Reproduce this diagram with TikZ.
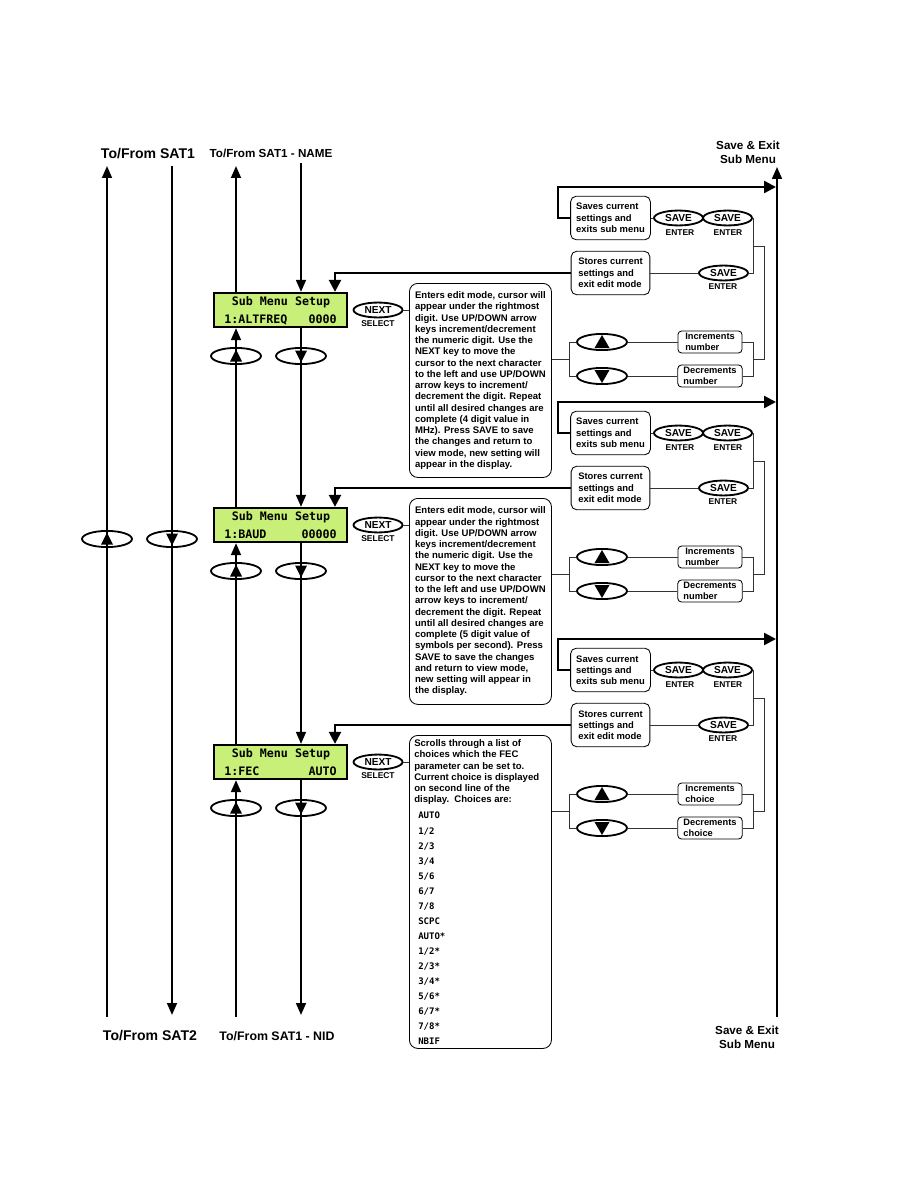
\documentclass[tikz,border=0pt]{standalone}
\usepackage{fontspec}
\setmainfont{Liberation Sans}
\newfontfamily\lcdfont{DejaVu Sans Mono}
\usetikzlibrary{arrows.meta,shapes.geometric}
\definecolor{lcdgreen}{RGB}{200,240,120}

\begin{document}
\begin{tikzpicture}[x=.025cm,y=-.025cm,
  flowline/.style={line width=1.4pt,-{Triangle[width=7pt,length=8.5pt]}},
  plainline/.style={line width=1.4pt},
  routeline/.style={line width=1.7pt,-{Triangle[width=8.5pt,length=8.5pt]}},
  conn/.style={line width=.6pt,black!80},
  lcdbox/.style={draw,line width=1.6pt,fill=lcdgreen,minimum width=94.6pt,minimum height=24.2pt,inner sep=0pt},
  lcdtext/.style={font=\lcdfont\bfseries\fontsize{8.3}{10}\selectfont,inner sep=0pt,text height=6pt,text depth=0pt},
  keyoval/.style={draw,ellipse,line width=1.3pt,minimum width=35.5pt,minimum height=11.5pt,inner sep=0pt},
  btnoval/.style={draw,ellipse,line width=1.3pt,fill=white,minimum width=34.8pt,minimum height=10.6pt,inner sep=0pt,font=\bfseries\fontsize{7.2}{8}\selectfont},
  btnlbl/.style={font=\bfseries\fontsize{6}{7}\selectfont,inner sep=0pt},
  infobox/.style={draw,line width=.6pt,rounded corners=4pt,align=left,font=\bfseries\fontsize{6.7}{8}\selectfont,minimum width=56pt,minimum height=31pt,inner xsep=4pt,inner ysep=1pt},
  minibox/.style={draw,line width=.6pt,rounded corners=2.5pt,align=left,font=\bfseries\fontsize{6.6}{8}\selectfont,minimum width=45.5pt,minimum height=15.6pt,inner xsep=4pt,inner ysep=.5pt},
  descbox/.style={draw,line width=.6pt,rounded corners=6pt,anchor=north west,align=left,font=\bfseries\fontsize{6.8}{8}\selectfont,minimum width=101pt,inner xsep=4pt,inner ysep=4pt},
  hdrbig/.style={font=\bfseries\fontsize{10}{12}\selectfont,inner sep=1pt},
  hdrsmall/.style={font=\bfseries\fontsize{8.3}{10}\selectfont,align=center,inner sep=1pt}]
\useasboundingbox (0,0) rectangle (918,1188);

% column positions
\coordinate (xA) at (107,0);
\coordinate (xB) at (172,0);
\coordinate (xC) at (236,0);
\coordinate (xD) at (301,0);
\coordinate (xR) at (335,0);

% headings
\node[hdrbig] (sat1) at (148,154) {To/From SAT1};
\node[hdrbig] (sat2) at (150,1036) {To/From SAT2};
\node[hdrsmall] (name) at (271,153) {To/From SAT1 - NAME};
\node[hdrsmall,font=\bfseries\fontsize{8.8}{10}\selectfont] (nid) at (277,1036) {To/From SAT1 - NID};
\node[hdrsmall] (exittop) at (748,152) {Save \& Exit\\Sub Menu};
\node[hdrsmall] (exitbot) at (747,1037) {Save \& Exit\\Sub Menu};

% outer lines
\coordinate (aTop) at (107,166);
\coordinate (aBot) at (107,1017);
\coordinate (bTop) at (172,166);
\coordinate (bBot) at (172,1015);
\coordinate (cTop) at (236,166);
\coordinate (cBot) at (236,1017);
\coordinate (dTop) at (301,163);
\coordinate (dBot) at (301,1015);
\coordinate (eTop) at (777,167);
\coordinate (eBot) at (777,1017);
\draw[flowline] (aBot) -- (aTop);
\draw[flowline] (bTop) -- (bBot);
\draw[flowline] (eBot) -- (eTop);
\node[keyoval] (ka) at (107,539) {};
\node[keyoval] (kb) at (172,539) {};
\fill (ka.center) ++(0,-6.5) -- ++(6,12) -- ++(-12,0) -- cycle;
\fill (kb.center) ++(0,6.5) -- ++(6,-12) -- ++(-12,0) -- cycle;

% displays
\node[lcdbox] (lcd1) at (280.5,310) {};
\node[lcdtext] (lcd1a) at (281,301) {Sub Menu Setup};
\node[lcdtext,anchor=west] (lcd1b) at (224,319) {1:ALTFREQ};
\node[lcdtext,anchor=east] (lcd1c) at (337,319) {0000};
\node[lcdbox] (lcd2) at (280.5,525) {};
\node[lcdtext] (lcd2a) at (281,516) {Sub Menu Setup};
\node[lcdtext,anchor=west] (lcd2b) at (224,534) {1:BAUD};
\node[lcdtext,anchor=east] (lcd2c) at (337,534) {00000};
\node[lcdbox] (lcd3) at (280.5,762) {};
\node[lcdtext] (lcd3a) at (281,753) {Sub Menu Setup};
\node[lcdtext,anchor=west] (lcd3b) at (224,771) {1:FEC};
\node[lcdtext,anchor=east] (lcd3c) at (337,771) {AUTO};

% up / down paths between displays
\draw[flowline] (xC |- lcd1.north) -- (cTop);
\draw[flowline] (xC |- lcd2.north) -- (xC |- lcd1.south);
\draw[flowline] (xC |- lcd3.north) -- (xC |- lcd2.south);
\draw[flowline] (cBot) -- (xC |- lcd3.south);
\draw[flowline] (dTop) -- (xD |- lcd1.north);
\draw[flowline] (xD |- lcd1.south) -- (xD |- lcd2.north);
\draw[flowline] (xD |- lcd2.south) -- (xD |- lcd3.north);
\draw[flowline] (xD |- lcd3.south) -- (dBot);
\node[keyoval] (cu1) at (236,356) {};
\node[keyoval] (cd1) at (301,356) {};
\node[keyoval] (cu2) at (236,571) {};
\node[keyoval] (cd2) at (301,571) {};
\node[keyoval] (cu3) at (236,808) {};
\node[keyoval] (cd3) at (301,808) {};
\fill (cu1.center) ++(0,-6.5) -- ++(6,12) -- ++(-12,0) -- cycle;
\fill (cd1.center) ++(0,6.5) -- ++(6,-12) -- ++(-12,0) -- cycle;
\fill (cu2.center) ++(0,-6.5) -- ++(6,12) -- ++(-12,0) -- cycle;
\fill (cd2.center) ++(0,6.5) -- ++(6,-12) -- ++(-12,0) -- cycle;
\fill (cu3.center) ++(0,-6.5) -- ++(6,12) -- ++(-12,0) -- cycle;
\fill (cd3.center) ++(0,6.5) -- ++(6,-12) -- ++(-12,0) -- cycle;

% ALTFREQ
\node[btnoval] (next1) at (378,310) {NEXT};
\node[btnlbl] (sel1) at (378,324) {SELECT};
\node[descbox,minimum height=138pt] (desc1) at (409,283) {Enters edit mode, cursor will\\
appear under the rightmost\\
digit. Use UP/DOWN arrow\\
keys increment/decrement\\
the numeric digit. Use the\\
NEXT key to move the\\
cursor to the next character\\
to the left and use UP/DOWN\\
arrow keys to increment/\\
decrement the digit. Repeat\\
until all desired changes are\\
complete (4 digit value in\\
MHz). Press SAVE to save\\
the changes and return to\\
view mode, new setting will\\
appear in the display.};
\draw[conn] (next1.east) -- (next1.east -| desc1.west);
\node[infobox] (saves1) at (610.5,218) {Saves current\\settings and\\exits sub menu};
\node[infobox] (stores1) at (610.5,273) {Stores current\\settings and\\exit edit mode};
\node[btnoval] (sv1a) at (678.5,218) {SAVE};
\node[btnlbl] (en1a) at (680,233) {ENTER};
\node[btnoval] (sv1b) at (727.5,218) {SAVE};
\node[btnlbl] (en1b) at (728,233) {ENTER};
\node[btnoval] (sv1c) at (723.5,273) {SAVE};
\node[btnlbl] (en1c) at (723,287) {ENTER};
\node[keyoval] (uk1) at (602,342) {};
\node[keyoval] (dk1) at (602,376) {};
\fill (uk1.center) ++(0,-7) -- ++(7.5,13) -- ++(-15,0) -- cycle;
\fill (dk1.center) ++(0,7) -- ++(7.5,-13) -- ++(-15,0) -- cycle;
\node[minibox] (inc1) at (710,342) {Increments\\number};
\node[minibox] (dec1) at (710,376) {Decrements\\number};
\coordinate (brk1) at (570,359);
\coordinate (m1a) at (753,359);
\coordinate (m1b) at (753,246);
\coordinate (ex1) at (776,187);
\draw[conn] (saves1) -- (sv1a);
\draw[conn] (stores1) -- (sv1c);
\draw[conn] (sv1b.east) -- ++(1,0) |- (sv1c.east);
\draw[conn] (uk1.west) -- ++(-7,0) |- (dk1.west);
\draw[conn] (desc1.east |- brk1) -- (brk1);
\draw[conn] (uk1) -- (inc1);
\draw[conn] (dk1) -- (dec1);
\draw[conn] (inc1.east) -- ++(11,0) |- (dec1.east);
\draw[conn] (m1a) -- ++(11,0) |- (m1b);
\draw[routeline] (saves1.west) -- ++(-12,0) |- (ex1);
\draw[routeline] (stores1.west) -| (xR |- lcd1.north);

% BAUD
\node[btnoval] (next2) at (378,525) {NEXT};
\node[btnlbl] (sel2) at (378,539) {SELECT};
\node[descbox,minimum height=146.5pt] (desc2) at (409,498) {Enters edit mode, cursor will\\
appear under the rightmost\\
digit. Use UP/DOWN arrow\\
keys increment/decrement\\
the numeric digit. Use the\\
NEXT key to move the\\
cursor to the next character\\
to the left and use UP/DOWN\\
arrow keys to increment/\\
decrement the digit. Repeat\\
until all desired changes are\\
complete (5 digit value of\\
symbols per second). Press\\
SAVE to save the changes\\
and return to view mode,\\
new setting will appear in\\
the display.};
\draw[conn] (next2.east) -- (next2.east -| desc2.west);
\node[infobox] (saves2) at (610.5,433) {Saves current\\settings and\\exits sub menu};
\node[infobox] (stores2) at (610.5,488) {Stores current\\settings and\\exit edit mode};
\node[btnoval] (sv2a) at (678.5,433) {SAVE};
\node[btnlbl] (en2a) at (680,448) {ENTER};
\node[btnoval] (sv2b) at (727.5,433) {SAVE};
\node[btnlbl] (en2b) at (728,448) {ENTER};
\node[btnoval] (sv2c) at (723.5,488) {SAVE};
\node[btnlbl] (en2c) at (723,502) {ENTER};
\node[keyoval] (uk2) at (602,557) {};
\node[keyoval] (dk2) at (602,591) {};
\fill (uk2.center) ++(0,-7) -- ++(7.5,13) -- ++(-15,0) -- cycle;
\fill (dk2.center) ++(0,7) -- ++(7.5,-13) -- ++(-15,0) -- cycle;
\node[minibox] (inc2) at (710,557) {Increments\\number};
\node[minibox] (dec2) at (710,591) {Decrements\\number};
\coordinate (brk2) at (570,574);
\coordinate (m2a) at (753,574);
\coordinate (m2b) at (753,461);
\coordinate (ex2) at (776,402);
\draw[conn] (saves2) -- (sv2a);
\draw[conn] (stores2) -- (sv2c);
\draw[conn] (sv2b.east) -- ++(1,0) |- (sv2c.east);
\draw[conn] (uk2.west) -- ++(-7,0) |- (dk2.west);
\draw[conn] (desc2.east |- brk2) -- (brk2);
\draw[conn] (uk2) -- (inc2);
\draw[conn] (dk2) -- (dec2);
\draw[conn] (inc2.east) -- ++(11,0) |- (dec2.east);
\draw[conn] (m2a) -- ++(11,0) |- (m2b);
\draw[routeline] (saves2.west) -- ++(-12,0) |- (ex2);
\draw[routeline] (stores2.west) -| (xR |- lcd2.north);

% FEC
\node[btnoval] (next3) at (378,762) {NEXT};
\node[btnlbl] (sel3) at (378,776) {SELECT};
\node[descbox,minimum height=222.6pt] (desc3) at (409,735) {};
\node[anchor=north west,align=left,inner sep=0pt,font=\bfseries\fontsize{6.8}{8}\selectfont] (desc3a) at (414,739.5) {Scrolls through a list of\\
choices which the FEC\\
parameter can be set to.\\
Current choice is displayed\\
on second line of the\\
display.\ \ Choices are:};
\node[anchor=north west,align=left,inner sep=0pt,font=\lcdfont\bfseries\fontsize{6.4}{10.7}\selectfont] (desc3b) at (418,812) {AUTO\\1/2\\2/3\\3/4\\5/6\\6/7\\7/8\\SCPC\\AUTO*\\1/2*\\2/3*\\3/4*\\5/6*\\6/7*\\7/8*\\NBIF};
\draw[conn] (next3.east) -- (next3.east -| desc3.west);
\node[infobox] (saves3) at (610.5,670) {Saves current\\settings and\\exits sub menu};
\node[infobox] (stores3) at (610.5,725) {Stores current\\settings and\\exit edit mode};
\node[btnoval] (sv3a) at (678.5,670) {SAVE};
\node[btnlbl] (en3a) at (680,685) {ENTER};
\node[btnoval] (sv3b) at (727.5,670) {SAVE};
\node[btnlbl] (en3b) at (728,685) {ENTER};
\node[btnoval] (sv3c) at (723.5,725) {SAVE};
\node[btnlbl] (en3c) at (723,739) {ENTER};
\node[keyoval] (uk3) at (602,794) {};
\node[keyoval] (dk3) at (602,828) {};
\fill (uk3.center) ++(0,-7) -- ++(7.5,13) -- ++(-15,0) -- cycle;
\fill (dk3.center) ++(0,7) -- ++(7.5,-13) -- ++(-15,0) -- cycle;
\node[minibox] (inc3) at (710,794) {Increments\\choice};
\node[minibox] (dec3) at (710,828) {Decrements\\choice};
\coordinate (brk3) at (570,811);
\coordinate (m3a) at (753,811);
\coordinate (m3b) at (753,698);
\coordinate (ex3) at (776,639);
\draw[conn] (saves3) -- (sv3a);
\draw[conn] (stores3) -- (sv3c);
\draw[conn] (sv3b.east) -- ++(1,0) |- (sv3c.east);
\draw[conn] (uk3.west) -- ++(-7,0) |- (dk3.west);
\draw[conn] (desc3.east |- brk3) -- (brk3);
\draw[conn] (uk3) -- (inc3);
\draw[conn] (dk3) -- (dec3);
\draw[conn] (inc3.east) -- ++(11,0) |- (dec3.east);
\draw[conn] (m3a) -- ++(11,0) |- (m3b);
\draw[routeline] (saves3.west) -- ++(-12,0) |- (ex3);
\draw[routeline] (stores3.west) -| (xR |- lcd3.north);
\end{tikzpicture}
\end{document}
